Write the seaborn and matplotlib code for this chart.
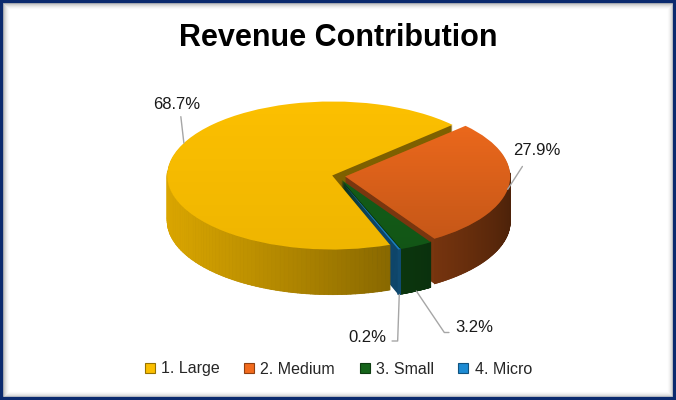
import numpy as np
import matplotlib
matplotlib.use("Agg")
import matplotlib.pyplot as plt
from matplotlib.collections import PolyCollection
from matplotlib.colors import to_rgb
from matplotlib.lines import Line2D
from matplotlib.patches import Rectangle
import seaborn as sns

# data
segments = ["1. Large", "2. Medium", "3. Small", "4. Micro"]
share = [68.7, 27.9, 3.2, 0.2]
pct_labels = ["68.7%", "27.9%", "3.2%", "0.2%"]
explode = [0.03, 0.05, 0.06, 0.06]
top_colors = ["#FBBF00", "#F26B1D", "#15641A", "#1D8BD3"]
top_dim = [0.05, 0.2, 0.15, 0.1]   # darkening of the top face towards the front

sns.set_theme(style="white")
plt.rcParams["font.family"] = ["Liberation Sans", "DejaVu Sans"]

W, H = 676, 400
depth = 0.61          # height of the pie wall, in y data units
start = 290.5

def shade(c, f):
    return tuple(np.clip(np.array(to_rgb(c)) * f, 0, 1))

fig = plt.figure(figsize=(W / 100, H / 100), dpi=100)
fig.patch.set_facecolor("white")
ax = fig.add_axes([0, 0, 1, 1])

# back-to-front painting order of the slices
rank = [0, 1, 2, 3]

# stacked pies give the solid body (cut faces), last one is the top surface
# painting: bodies (by slice) < outer walls < top faces
layers = np.linspace(depth, 0, 45)
for k, d in enumerate(layers):
    top = k == len(layers) - 1
    cols = top_colors if top else [shade(c, 0.5) for c in top_colors]
    wedges, _ = ax.pie(share, explode=explode, colors=cols, startangle=start,
                       counterclock=False, center=(0, -d),
                       wedgeprops=dict(linewidth=0))
    for i, w in enumerate(wedges):
        w.set_zorder(1000 + rank[i] if top else rank[i] * 100 + k)
top_wedges = wedges

# outer walls with a left-lit shading
for i, w in enumerate(top_wedges):
    cx, cy = w.center
    a = np.linspace(w.theta1, w.theta2, 160)
    polys, fcs = [], []
    for a0, a1 in zip(a[:-1], a[1:]):
        am = np.deg2rad((a0 + a1) / 2)
        if np.sin(am) > 0.05:
            continue
        r0, r1 = np.deg2rad(a0), np.deg2rad(a1)
        polys.append([(cx + np.cos(r0), cy + np.sin(r0)),
                      (cx + np.cos(r1), cy + np.sin(r1)),
                      (cx + np.cos(r1), cy + np.sin(r1) - depth),
                      (cx + np.cos(r0), cy + np.sin(r0) - depth)])
        light = 0.5 - 0.5 * np.cos(am)
        fcs.append(shade(top_colors[i], 0.32 + 0.55 * light ** 0.8))
    if polys:
        pc = PolyCollection(polys, facecolors=fcs, edgecolors=fcs, linewidths=0.6)
        pc.set_zorder(500 + rank[i])
        ax.add_collection(pc)

# soft vertical gradient on the top faces
ramp = np.linspace(0, 1, 64).reshape(-1, 1)
for i, w in enumerate(top_wedges):
    cx, cy = w.center
    img = np.zeros((64, 1, 4))
    img[..., 3] = top_dim[i] * ramp
    im = ax.imshow(img, extent=(cx - 1, cx + 1, cy - 1, cy + 1), aspect="auto",
                   zorder=1000 + rank[i] + 0.5, interpolation="bilinear")
    im.set_clip_path(w)

ax.set_aspect("auto")
rx, ry, cxp, cyp = 165, 74, 337, 176
ax.set_xlim(-cxp / rx, (W - cxp) / rx)
ax.set_ylim(-(H - cyp) / ry, cyp / ry)
ax.axis("off")

def px(x, y):
    return ((x - cxp) / rx, (cyp - y) / ry)

def rim(i, ang, bottom=False):
    w = top_wedges[i]
    r = np.deg2rad(ang)
    return (w.center[0] + np.cos(r), w.center[1] + np.sin(r) - (depth if bottom else 0))

lc = "#A6A6A6"
lab = dict(fontsize=12, color="#1a1a1a", zorder=2000)
ax.annotate(pct_labels[0], xy=rim(0, 154), xytext=px(177, 112), ha="center", va="bottom",
            arrowprops=dict(arrowstyle="-", color=lc, lw=1, shrinkA=1, shrinkB=0,
                            relpos=(0.57, 0)), **lab)
ax.annotate(pct_labels[1], xy=rim(1, -10), xytext=px(537, 151), ha="center", va="center",
            arrowprops=dict(arrowstyle="-", color=lc, lw=1, shrinkA=4, shrinkB=0,
                            relpos=(0.3, 0)), **lab)
m2 = (top_wedges[2].theta1 + top_wedges[2].theta2) / 2
ax.annotate(pct_labels[2], xy=rim(2, m2, True), xytext=px(455, 328), ha="left", va="center",
            arrowprops=dict(arrowstyle="-", color=lc, lw=1, shrinkA=2, shrinkB=0,
                            relpos=(0, 0.2),
                            connectionstyle="angle,angleA=0,angleB=-56,rad=0"), **lab)
m3 = (top_wedges[3].theta1 + top_wedges[3].theta2) / 2
ax.annotate(pct_labels[3], xy=rim(3, m3, True), xytext=px(386, 338), ha="right", va="center",
            arrowprops=dict(arrowstyle="-", color=lc, lw=1, shrinkA=2, shrinkB=0,
                            relpos=(1, 0.3),
                            connectionstyle="angle,angleA=0,angleB=88,rad=0"), **lab)

fig.text(0.5, 1 - 38 / H, "Revenue Contribution", ha="center", va="center",
         fontsize=22, fontweight="bold", color="black")

handles = [Line2D([], [], marker="s", linestyle="none", markersize=7,
                  markerfacecolor=c, markeredgecolor=shade(c, 0.6), markeredgewidth=0.8)
           for c in top_colors]
fig.legend(handles, segments, loc="center", bbox_to_anchor=(0.5, 1 - 369 / H), ncol=4,
           frameon=False, fontsize=11.5, handlelength=0.7, handletextpad=0.35,
           columnspacing=1.5, labelcolor="#262626")

# inner shadow and navy frame
for j, g in enumerate([0.72, 0.8, 0.86, 0.91, 0.95, 0.975]):
    ins = 3 + j
    fig.patches.append(Rectangle((ins / W, ins / H), 1 - 2 * ins / W, 1 - 2 * ins / H,
                                 transform=fig.transFigure, fill=False,
                                 edgecolor=(g, g, g), linewidth=0.8, zorder=900))
fig.patches.append(Rectangle((0, 0), 1, 1, transform=fig.transFigure, fill=False,
                             edgecolor="#0B2A6E", linewidth=4.5, zorder=1000))

fig.savefig("out.png", dpi=100, facecolor=fig.get_facecolor())
